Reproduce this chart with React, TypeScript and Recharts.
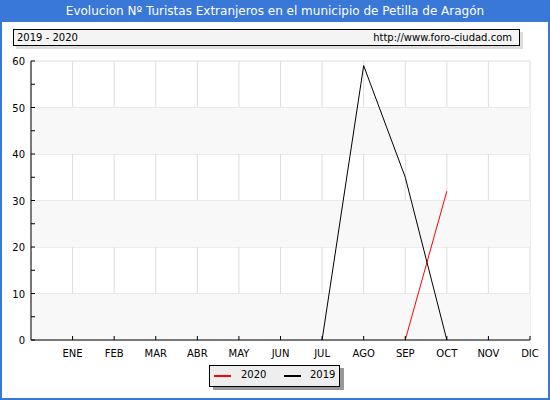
import React from "react";
import { LineChart, Line, XAxis, YAxis, CartesianGrid, ReferenceArea } from "recharts";

const months = ["ENE", "FEB", "MAR", "ABR", "MAY", "JUN", "JUL", "AGO", "SEP", "OCT", "NOV", "DIC"];
const values2019: (number | null)[] = [null, null, null, null, null, null, 0, 59, 35, 0, null, null];
const values2020: (number | null)[] = [null, null, null, null, null, null, null, null, 0, 32, null, null];
const yTicks = [0, 10, 20, 30, 40, 50, 60];
const xTicks = [0, 1, 2, 3, 4, 5, 6, 7, 8, 9, 10, 11, 12];
const bands: [number, number][] = [[0, 10], [20, 30], [40, 50]];
const title = "Evolucion Nº Turistas Extranjeros en el municipio de Petilla de Aragón";
const subtitleLeft = "2019 - 2020";
const subtitleRight = "http://www.foro-ciudad.com";

const data = months.map((m, i) => ({ x: i + 1, m, v2019: values2019[i], v2020: values2020[i] }));

const BLUE = "#3a78d8";
const FONT = "'DejaVu Sans', Verdana, sans-serif";

const YTick = (props: any) => {
  const { y, payload } = props;
  return (
    <g>
      <line x1={31} x2={35} y1={y} y2={y} stroke="#000" />
      <text x={25} y={y + 4} textAnchor="end" fontSize={10} fontFamily={FONT} fill="#000">
        {payload.value}
      </text>
    </g>
  );
};

const XTick = (props: any) => {
  const { x, payload } = props;
  const v = payload.value;
  if (v === 0) return null;
  return (
    <g>
      <line x1={x} x2={x} y1={340} y2={336} stroke="#000" />
      <text x={x} y={357} textAnchor="middle" fontSize={10} fontFamily={FONT} fill="#000">
        {months[v - 1]}
      </text>
    </g>
  );
};

export default function App() {
  return (
    <div style={{ position: "absolute", left: 0, top: 0, width: 550, height: 400, background: "#fff" }}>
      <LineChart
        width={550}
        height={400}
        data={data}
        margin={{ top: 61, right: 20, bottom: 30, left: 0 }}
      >
        {bands.map(([a, b]) => (
          <ReferenceArea key={a} y1={a} y2={b} x1={0} x2={12} fill="#f8f8f8" fillOpacity={1} stroke="none" ifOverflow="hidden" />
        ))}
        <CartesianGrid stroke="#dddddd" strokeWidth={1} />
        <XAxis
          dataKey="x"
          type="number"
          domain={[0, 12]}
          ticks={xTicks}
          interval={0}
          height={30}
          axisLine={{ stroke: "#000" }}
          tickLine={false}
          tick={<XTick />}
        />
        <YAxis
          type="number"
          domain={[0, 60]}
          ticks={yTicks}
          interval={0}
          width={31}
          axisLine={{ stroke: "#000" }}
          tickLine={false}
          tick={<YTick />}
        />
        <Line dataKey="v2020" stroke="#ff0000" strokeWidth={1} dot={false} isAnimationActive={false} connectNulls={false} />
        <Line dataKey="v2019" stroke="#000000" strokeWidth={1} dot={false} isAnimationActive={false} connectNulls={false} />
      </LineChart>
      <svg style={{ position: "absolute", left: 0, top: 0, pointerEvents: "none" }} width={550} height={400}>
        {[5, 15, 25, 35, 45, 55].map((v) => {
          const y = 340 - (v / 60) * 279;
          return <line key={v} x1={31} x2={35} y1={y} y2={y} stroke="#000" />;
        })}
      </svg>
      <div
        style={{
          position: "absolute",
          left: 0,
          top: 0,
          width: 550,
          height: 400,
          boxSizing: "border-box",
          border: `2px solid ${BLUE}`,
          pointerEvents: "none",
        }}
      />
      <div
        style={{
          position: "absolute",
          left: 0,
          top: 0,
          width: 550,
          height: 22,
          background: BLUE,
          color: "#fff",
          fontFamily: FONT,
          fontSize: 12,
          lineHeight: "22px",
          textAlign: "center",
        }}
      >
        {title}
      </div>
      <div
        style={{
          position: "absolute",
          left: 16,
          top: 32,
          width: 507,
          height: 17,
          background: "#dddddd",
        }}
      />
      <div
        style={{
          position: "absolute",
          left: 13,
          top: 29,
          width: 507,
          height: 17,
          boxSizing: "border-box",
          border: "1px solid #000",
          background: "#f4f4f4",
          fontFamily: FONT,
          fontSize: 10,
          lineHeight: "15px",
          color: "#000",
        }}
      >
        <span style={{ position: "absolute", left: 3 }}>{subtitleLeft}</span>
        <span style={{ position: "absolute", right: 7 }}>{subtitleRight}</span>
      </div>
      <div
        style={{
          position: "absolute",
          left: 213,
          top: 368,
          width: 131,
          height: 22,
          background: "#999",
        }}
      />
      <div
        style={{
          position: "absolute",
          left: 209,
          top: 365,
          width: 131,
          height: 22,
          boxSizing: "border-box",
          border: "1px solid #000",
          background: "#eeeeee",
          fontFamily: FONT,
          fontSize: 10,
          color: "#000",
        }}
      >
        <div style={{ position: "absolute", left: 4, top: 9, width: 17, height: 2, background: "#ff0000" }} />
        <span style={{ position: "absolute", left: 31, top: 3 }}>2020</span>
        <div style={{ position: "absolute", left: 74, top: 9, width: 17, height: 2, background: "#000" }} />
        <span style={{ position: "absolute", left: 100, top: 3 }}>2019</span>
      </div>
    </div>
  );
}
